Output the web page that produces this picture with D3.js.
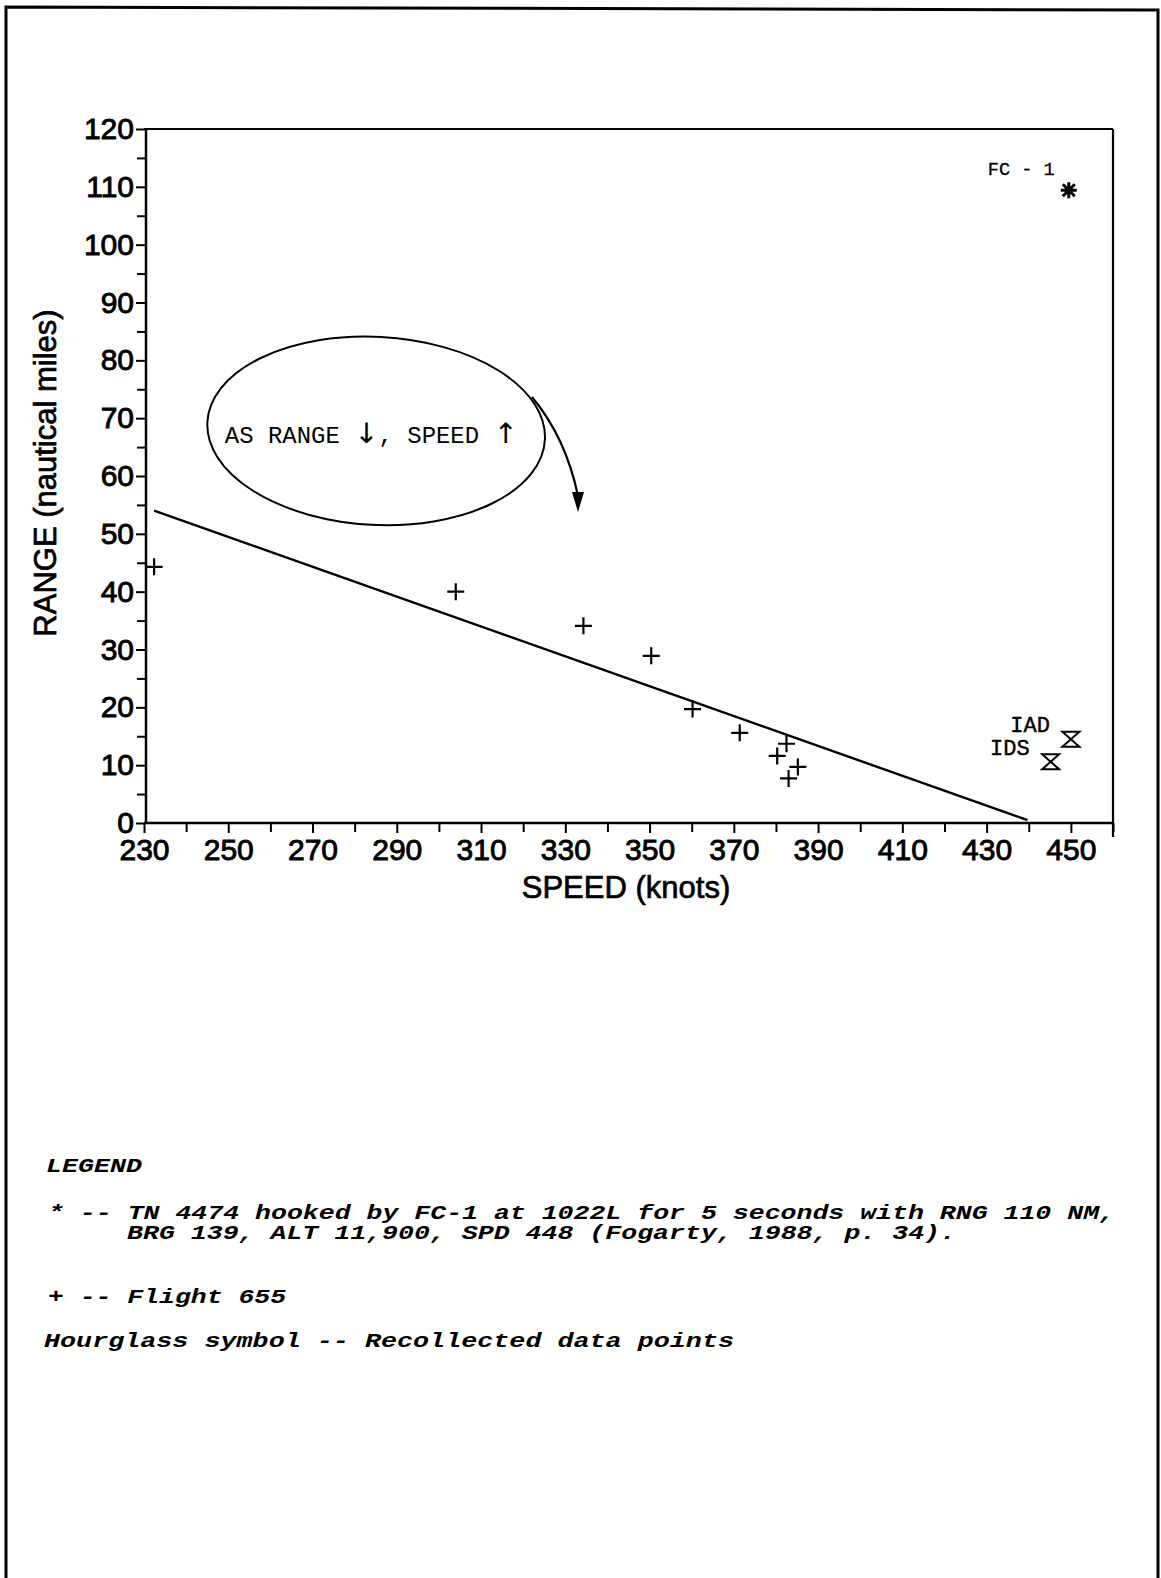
<!DOCTYPE html>
<html><head><meta charset="utf-8">
<script src="https://cdn.jsdelivr.net/npm/d3@7"></script>
<style>
html,body{margin:0;padding:0;background:#fff;}
svg{display:block;}
</style></head>
<body>
<script>
// ---------- DATA ----------
const flightSpeed = [232.4, 304, 334.3, 350.4, 360.2, 371.4, 382.5, 380.3, 385.2, 383];
const flightRange = [44.3, 40, 34.1, 28.9, 19.7, 15.6, 13.7, 11.6, 9.7, 7.7];
const fcSpeed = [449.5];
const fcRange = [109.4];
const fcLabels = ["FC - 1"];
const recollectedSpeed = [450, 445.2];
const recollectedRange = [14.5, 10.6];
const recollectedLabels = ["IAD", "IDS"];
const trendSpeed = [232.4, 439.7];
const trendRange = [54.0, 0.5];
const xMajorTicks = [230, 250, 270, 290, 310, 330, 350, 370, 390, 410, 430, 450];
const xMinorTicks = [240, 260, 280, 300, 320, 340, 360, 380, 400, 420, 440, 460];
const yMajorTicks = [0, 10, 20, 30, 40, 50, 60, 70, 80, 90, 100, 110, 120];
const yMinorTicks = [5, 15, 25, 35, 45, 55, 65, 75, 85, 95, 105, 115];
const xTitle = "SPEED (knots)";
const yTitle = "RANGE (nautical miles)";
const noteParts = ["AS RANGE ", "\u2193", ",  SPEED ", "\u2191"];
const legendTitle = "LEGEND";
const legendLines = [
  "* -- TN 4474 hooked by FC-1 at 1022L for 5 seconds with RNG 110 NM,",
  "BRG 139, ALT 11,900, SPD 448 (Fogarty, 1988, p. 34).",
  "+ -- Flight 655",
  "Hourglass symbol -- Recollected data points"
];

// ---------- LAYOUT ----------
const W = 1161, H = 1578;
const svg = d3.select("body").append("svg").attr("width", W).attr("height", H);
svg.append("rect").attr("width", W).attr("height", H).attr("fill", "#fff");

// page border (scan frame)
svg.append("path").attr("d", "M6,1578 L6,7 L1158,10 L1158,1578")
  .attr("fill", "none").attr("stroke", "#000").attr("stroke-width", 3);

const x = d3.scaleLinear().domain([230, 460]).range([144, 1113]);
const y = d3.scaleLinear().domain([0, 120]).range([823, 129]);

const g = svg.append("g");
const sans = "'Liberation Sans', Arial, Helvetica, sans-serif";
const mono = "'Liberation Mono', 'Courier New', monospace";

// frame
g.append("line").attr("x1", x(230)).attr("x2", x(460)).attr("y1", y(120)).attr("y2", y(120))
  .attr("stroke", "#000").attr("stroke-width", 2.2);
g.append("line").attr("x1", x(460)).attr("x2", x(460)).attr("y1", y(120)).attr("y2", y(0) + 14)
  .attr("stroke", "#000").attr("stroke-width", 2.2);

// x axis
const xAxis = d3.axisBottom(x).tickValues(xMajorTicks).tickSize(10).tickPadding(6)
  .tickFormat(d3.format("d"));
const xa = g.append("g").attr("transform", `translate(0,${y(0)})`).call(xAxis);
xa.select(".domain").attr("d", `M${x(230)},0H${x(460)}`).attr("stroke-width", 2.5);
xa.selectAll(".tick line").attr("stroke-width", 2);
xa.selectAll(".tick text").attr("font-family", sans).attr("font-size", 30).attr("fill", "#000")
  .attr("stroke", "#000").attr("stroke-width", 0.9);
g.append("g").attr("transform", `translate(0,${y(0)})`)
  .call(d3.axisBottom(x).tickValues(xMinorTicks).tickSize(9).tickFormat(""))
  .call(s => s.select(".domain").remove())
  .selectAll(".tick line").attr("stroke-width", 2);

// y axis
const yAxis = d3.axisLeft(y).tickValues(yMajorTicks).tickSize(10).tickPadding(2)
  .tickFormat(d3.format("d"));
const ya = g.append("g").attr("transform", `translate(${x(230) + 2},0)`).call(yAxis);
ya.select(".domain").attr("d", `M0,${y(0)}V${y(120)}`).attr("stroke-width", 2.5);
ya.selectAll(".tick line").attr("stroke-width", 2);
ya.selectAll(".tick text").attr("font-family", sans).attr("font-size", 30).attr("fill", "#000")
  .attr("stroke", "#000").attr("stroke-width", 0.9);
g.append("g").attr("transform", `translate(${x(230) + 2},0)`)
  .call(d3.axisLeft(y).tickValues(yMinorTicks).tickSize(9).tickFormat(""))
  .call(s => s.select(".domain").remove())
  .selectAll(".tick line").attr("stroke-width", 2);

// axis titles
g.append("text").attr("x", 626).attr("y", 898).attr("text-anchor", "middle")
  .attr("font-family", sans).attr("font-size", 31).attr("fill", "#000")
  .attr("stroke", "#000").attr("stroke-width", 0.7).text(xTitle);
g.append("text").attr("transform", "translate(56,473) rotate(-90)").attr("text-anchor", "middle")
  .attr("font-family", sans).attr("font-size", 31).attr("fill", "#000")
  .attr("stroke", "#000").attr("stroke-width", 0.7).text(yTitle);

// trend line
const trend = trendSpeed.map((s, i) => [s, trendRange[i]]);
g.append("path").datum(trend)
  .attr("d", d3.line().x(d => x(d[0])).y(d => y(d[1])))
  .attr("fill", "none").attr("stroke", "#000").attr("stroke-width", 2.4);

// flight 655 plus markers
const flights = flightSpeed.map((s, i) => ({s, r: flightRange[i]}));
g.selectAll(".plus").data(flights).join("path").attr("class", "plus")
  .attr("transform", d => `translate(${x(d.s)},${y(d.r)})`)
  .attr("d", "M-8.5,0H8.5M0,-8.5V8.5")
  .attr("stroke", "#000").attr("stroke-width", 2.2).attr("fill", "none");

// FC-1 asterisk
const fc = fcSpeed.map((s, i) => ({s, r: fcRange[i], label: fcLabels[i]}));
g.selectAll(".ast").data(fc).join("path").attr("class", "ast")
  .attr("transform", d => `translate(${x(d.s)},${y(d.r)})`)
  .attr("d", "M-8,0H8M0,-8V8M-6,-6L6,6M-6,6L6,-6")
  .attr("stroke", "#000").attr("stroke-width", 3).attr("fill", "none");
g.selectAll(".fclab").data(fc).join("text").attr("class", "fclab")
  .attr("x", d => x(d.s) - 81).attr("y", d => y(d.r) - 15)
  .attr("font-family", mono).attr("font-size", 19)
  .attr("textLength", 67).attr("lengthAdjust", "spacingAndGlyphs")
  .attr("fill", "#000").attr("stroke", "#000").attr("stroke-width", 0.3).text(d => d.label);

// recollected hourglasses
const rec = recollectedSpeed.map((s, i) => ({s, r: recollectedRange[i], label: recollectedLabels[i]}));
g.selectAll(".hg").data(rec).join("path").attr("class", "hg")
  .attr("transform", d => `translate(${x(d.s)},${y(d.r)})`)
  .attr("d", "M-8.5,-7.5H8.5L-8.5,7.5H8.5Z")
  .attr("stroke", "#000").attr("stroke-width", 2).attr("fill", "none").attr("stroke-linejoin", "miter");
g.selectAll(".hglab").data(rec).join("text").attr("class", "hglab")
  .attr("x", d => x(d.s) - 21).attr("y", d => y(d.r) - 7)
  .attr("text-anchor", "end").attr("font-family", mono).attr("font-size", 22)
  .attr("fill", "#000").attr("stroke", "#000").attr("stroke-width", 0.4).text(d => d.label);

// annotation ellipse + text + arrow
const ex = x(285.1), ey = y(67.8);
g.append("ellipse").attr("cx", ex).attr("cy", ey).attr("rx", 169).attr("ry", 94)
  .attr("transform", `rotate(3,${ex},${ey})`)
  .attr("fill", "none").attr("stroke", "#000").attr("stroke-width", 2);
const note = g.append("text").attr("x", x(249.2)).attr("y", y(65.7))
  .attr("font-family", mono).attr("font-size", 23).attr("fill", "#000")
  .attr("textLength", 293).attr("lengthAdjust", "spacingAndGlyphs");
note.selectAll("tspan").data(noteParts).join("tspan")
  .attr("font-family", (d, i) => i % 2 ? "'DejaVu Sans'" : mono)
  .attr("font-size", (d, i) => i % 2 ? 28 : 23)
  .text(d => d);
const tipX = 578, tipY = 512;
g.append("path").attr("d", `M532,397 Q566,438 ${tipX},${tipY - 16}`)
  .attr("fill", "none").attr("stroke", "#000").attr("stroke-width", 2.2);
g.append("path").attr("d", `M${tipX - 6},${tipY - 20} L${tipX + 6},${tipY - 20} L${tipX},${tipY} Z`)
  .attr("fill", "#000");

// legend
const leg = svg.append("g").attr("font-family", mono).attr("font-style", "italic")
  .attr("font-weight", "bold").attr("font-size", 20).attr("fill", "#000");
leg.append("text").attr("x", 46).attr("y", 1172).attr("textLength", 96)
  .attr("lengthAdjust", "spacingAndGlyphs").text(legendTitle);
const legPos = [[48, 1219, 1067], [127, 1239, 829], [48, 1303, 238], [44, 1347, 690]];
leg.selectAll(".ll").data(legendLines).join("text").attr("class", "ll")
  .attr("x", (d, i) => legPos[i][0]).attr("y", (d, i) => legPos[i][1])
  .attr("textLength", (d, i) => legPos[i][2]).attr("lengthAdjust", "spacingAndGlyphs")
  .text(d => d);
</script>
</body></html>
